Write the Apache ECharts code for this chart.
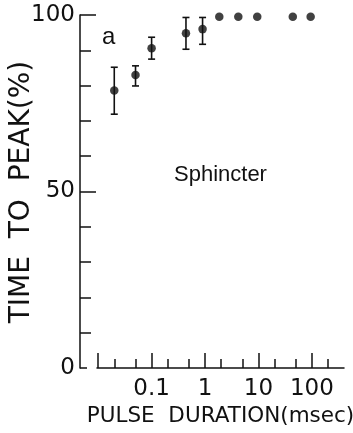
<!DOCTYPE html>
<html><head><meta charset="utf-8">
<script src="https://cdn.jsdelivr.net/npm/echarts@6/dist/echarts.min.js"></script>
<style>html,body{margin:0;padding:0;background:#fff}#c{width:353px;height:433px}</style>
</head><body><div id="c"></div>
<script>
// data
const pulseDuration = [0.02, 0.05, 0.1, 0.44, 0.9, 1.85, 4.2, 9.5, 44, 95];
const timeToPeak    = [78.6, 83.0, 90.6, 94.8, 96.0, 99.5, 99.5, 99.5, 99.5, 99.5];
const errDuration   = [0.02, 0.05, 0.1, 0.44, 0.9];
const errLow        = [71.9, 79.9, 87.5, 90.3, 91.7];
const errHigh       = [85.2, 85.6, 93.7, 99.3, 99.3];
// ticks / labels
const xTickMajor = [0.01, 0.1, 1, 10, 100];
const xTickMinor = [0.02, 0.05, 0.2, 0.5, 2, 5, 20, 50, 200];
const xLabels    = [0.1, 1, 10, 100];
const yLabels    = [0, 50, 100];
const yTickMajor = [50, 100];
const yTickMinor = [10, 20, 30, 40, 60, 70, 80, 90];
const yTickFoot  = [0];
const xTitle = 'PULSE  DURATION(msec)';
const yTitle = 'TIME  TO  PEAK(%)';

const ink = '#111';
const font = 'DejaVu Sans';
const scatterData = pulseDuration.map((d, i) => [d, timeToPeak[i]]);
const errData = errDuration.map((d, i) => [d, errLow[i], errHigh[i]]);

function xAxisBase(extra) {
  return Object.assign({
    type: 'log', logBase: 10, min: 0.0095, max: 400, position: 'bottom',
    axisLine: { show: false }, splitLine: { show: false },
    axisLabel: { show: false }, axisTick: { show: false }
  }, extra);
}
function yAxisBase(extra) {
  return Object.assign({
    type: 'value', min: 0, max: 100, position: 'left', offset: 17,
    axisLine: { show: false }, splitLine: { show: false },
    axisLabel: { show: false }, axisTick: { show: false }
  }, extra);
}

const chart = echarts.init(document.getElementById('c'), null, { renderer: 'canvas' });
chart.setOption({
  animation: false,
  backgroundColor: '#fff',
  grid: { left: 97, right: 9, top: 15, bottom: 65, containLabel: false, outerBoundsMode: 'none' },
  xAxis: [
    xAxisBase({
      axisLine: { show: true, lineStyle: { color: ink, width: 1.5 } },
      axisTick: { show: true, inside: true, length: 9, lineStyle: { color: ink, width: 1.5 }, customValues: xTickMinor },
      name: xTitle, nameLocation: 'middle', nameGap: 37,
      nameTextStyle: { fontFamily: font, fontSize: 21.5, color: ink }
    }),
    xAxisBase({
      axisTick: { show: true, inside: true, length: 15, lineStyle: { color: ink, width: 1.5 }, customValues: xTickMajor },
      axisLabel: { show: true, customValues: xLabels, margin: 10, fontFamily: font, fontSize: 23, color: ink,
        formatter: v => String(+(+v).toPrecision(6)) }
    })
  ],
  yAxis: [
    yAxisBase({
      axisLine: { show: true, lineStyle: { color: ink, width: 1.5 } },
      axisTick: { show: true, inside: true, length: 11, lineStyle: { color: ink, width: 1.5 }, customValues: yTickMinor },
      axisLabel: { show: true, customValues: yLabels, margin: 5, fontFamily: font, fontSize: 23, color: ink }
    }),
    yAxisBase({
      axisTick: { show: true, inside: true, length: 16, lineStyle: { color: ink, width: 1.5 }, customValues: yTickMajor }
    }),
    yAxisBase({
      axisTick: { show: true, inside: true, length: 7, lineStyle: { color: ink, width: 1.5 }, customValues: yTickFoot }
    })
  ],
  graphic: [
    { type: 'text', x: 22, y: 192, rotation: Math.PI / 2,
      style: { text: yTitle, font: '28px "DejaVu Sans"', fill: ink, align: 'center', verticalAlign: 'middle' } },
    { type: 'text', left: 102, top: 25, style: { text: 'a', font: '24px "Liberation Sans"', fill: ink } },
    { type: 'text', left: 174, top: 164, style: { text: 'Sphincter', font: '22px "Liberation Sans"', fill: ink } }
  ],
  series: [
    {
      type: 'custom', xAxisIndex: 0, yAxisIndex: 0, data: errData,
      renderItem: function (params, api) {
        const top = api.coord([api.value(0), api.value(2)]);
        const bot = api.coord([api.value(0), api.value(1)]);
        const w = 3.5;
        const st = { stroke: ink, lineWidth: 1.6 };
        return { type: 'group', children: [
          { type: 'line', shape: { x1: top[0], y1: top[1], x2: bot[0], y2: bot[1] }, style: st },
          { type: 'line', shape: { x1: top[0] - w, y1: top[1], x2: top[0] + w, y2: top[1] }, style: st },
          { type: 'line', shape: { x1: bot[0] - w, y1: bot[1], x2: bot[0] + w, y2: bot[1] }, style: st }
        ]};
      }
    },
    {
      type: 'scatter', xAxisIndex: 0, yAxisIndex: 0, data: scatterData,
      symbol: 'circle', symbolSize: 8.5, itemStyle: { color: ink }
    }
  ]
});
</script></body></html>
